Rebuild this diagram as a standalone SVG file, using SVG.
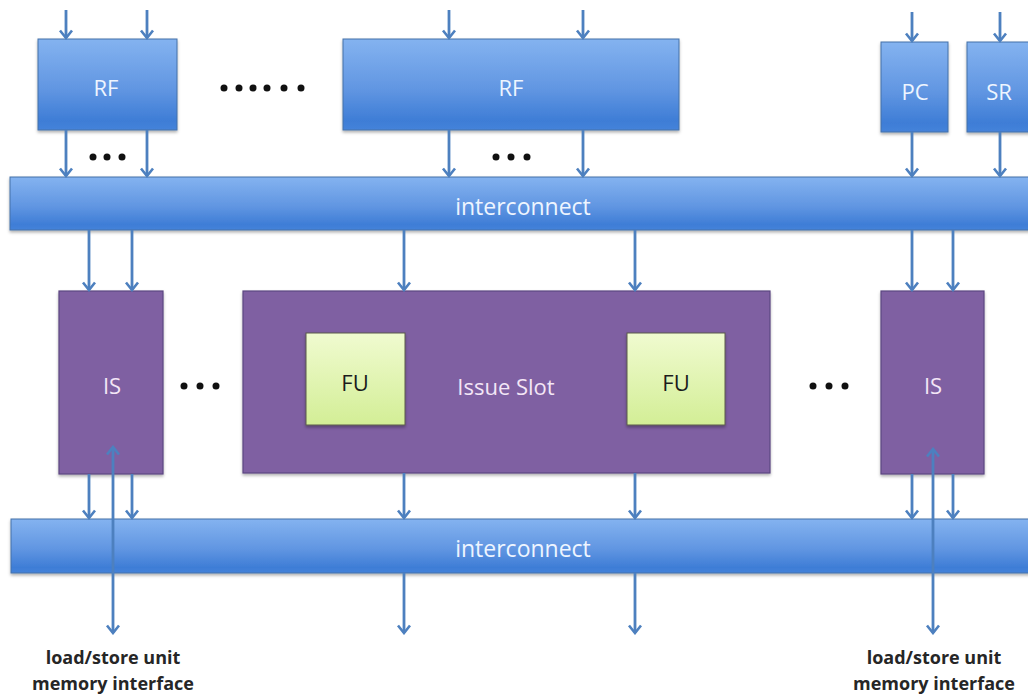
<svg xmlns="http://www.w3.org/2000/svg" width="1028" height="695" viewBox="0 0 1028 695">
  <style>
    .blue { fill: url(#gBlue); stroke: #4470a8; stroke-width: 1; filter: url(#shadow); }
    .purple { fill: #7f61a2; stroke: #5b4680; stroke-width: 1.2; filter: url(#shadow); }
    .fu { fill: url(#gGreen); stroke: #5a5a4a; stroke-width: 1; filter: url(#shadow); }
    .lbl { font-family: "Open Sans", "Liberation Sans", sans-serif; text-anchor: middle; dominant-baseline: central; }
    .lblBlue { fill: #eef5ff; font-size: 22px; }
    .lblBus { fill: #eef5ff; font-size: 23px; }
    .lblPurple { fill: #f3e6f6; font-size: 22px; }
    .lblFu { fill: #1c1c1c; font-size: 22px; }
    .note { font-family: "Open Sans", "Liberation Sans", sans-serif; font-weight: bold; font-size: 18px; fill: #262626; text-anchor: middle; }
    .wire { stroke: #4d80bf; stroke-width: 2.8; fill: none; marker-end: url(#head); }
    .both { marker-start: url(#head); }
    .dot { fill: #111; }
  </style>
  <defs>
    <linearGradient id="gBlue" x1="0" y1="0" x2="0" y2="1">
      <stop offset="0" stop-color="#84b3f0"/>
      <stop offset="0.55" stop-color="#6196e2"/>
      <stop offset="0.9" stop-color="#3e7dd6"/>
      <stop offset="1" stop-color="#4583da"/>
    </linearGradient>
    <linearGradient id="gGreen" x1="0" y1="0" x2="0" y2="1">
      <stop offset="0" stop-color="#f0fbd0"/>
      <stop offset="1" stop-color="#d3ee96"/>
    </linearGradient>
    <filter id="shadow" x="-10%" y="-10%" width="120%" height="130%">
      <feDropShadow dx="0" dy="2" stdDeviation="1.5" flood-color="#000" flood-opacity="0.3"/>
    </filter>
    <marker id="head" markerUnits="userSpaceOnUse" viewBox="-10 -8 12 16" refX="0" refY="0" markerWidth="12" markerHeight="16" orient="auto-start-reverse">
      <path d="M-7.5,-6 L0,0 L-7.5,6" fill="none" stroke="#4d80bf" stroke-width="2.6"/>
    </marker>
  </defs>

  <rect width="1028" height="695" fill="#ffffff"/>

  <!-- register files and special registers -->
  <g id="rf-left">
    <rect class="blue" x="38" y="39" width="139" height="91"/>
    <text class="lbl lblBlue" x="106" y="87">RF</text>
  </g>
  <g id="rf-main">
    <rect class="blue" x="343" y="39" width="336" height="91"/>
    <text class="lbl lblBlue" x="511" y="87">RF</text>
  </g>
  <g id="pc">
    <rect class="blue" x="881" y="42" width="67" height="90"/>
    <text class="lbl lblBlue" x="915" y="91">PC</text>
  </g>
  <g id="sr">
    <rect class="blue" x="967" y="42" width="75" height="90"/>
    <text class="lbl lblBlue" x="999" y="91">SR</text>
  </g>

  <!-- buses -->
  <g id="interconnect-top">
    <rect class="blue" x="10" y="177" width="1030" height="53"/>
    <text class="lbl lblBus" x="523" y="206">interconnect</text>
  </g>
  <g id="interconnect-bottom">
    <rect class="blue" x="11" y="519" width="1030" height="54"/>
    <text class="lbl lblBus" x="523" y="548">interconnect</text>
  </g>

  <!-- issue slots -->
  <g id="is-left">
    <rect class="purple" x="59" y="291" width="104" height="183"/>
    <text class="lbl lblPurple" x="112" y="385">IS</text>
  </g>
  <g id="issue-slot">
    <rect class="purple" x="243" y="291" width="527" height="182"/>
    <text class="lbl lblPurple" x="506" y="386">Issue Slot</text>
  </g>
  <g id="fu-left">
    <rect class="fu" x="306" y="333" width="99" height="92"/>
    <text class="lbl lblFu" x="355" y="382">FU</text>
  </g>
  <g id="fu-right">
    <rect class="fu" x="627" y="333" width="98" height="92"/>
    <text class="lbl lblFu" x="676" y="382">FU</text>
  </g>
  <g id="is-right">
    <rect class="purple" x="881" y="291" width="103" height="183"/>
    <text class="lbl lblPurple" x="933" y="385">IS</text>
  </g>

  <!-- ellipses standing for repeated units -->
  <g id="ellipses">
    <circle class="dot" cx="224" cy="88" r="3.5"/>
    <circle class="dot" cx="239" cy="88" r="3.5"/>
    <circle class="dot" cx="253" cy="88" r="3.5"/>
    <circle class="dot" cx="267" cy="88" r="3.5"/>
    <circle class="dot" cx="284" cy="88" r="3.5"/>
    <circle class="dot" cx="301" cy="88" r="3.5"/>
    <circle class="dot" cx="93" cy="157" r="3.5"/>
    <circle class="dot" cx="107" cy="157" r="3.5"/>
    <circle class="dot" cx="122" cy="157" r="3.5"/>
    <circle class="dot" cx="496" cy="157" r="3.5"/>
    <circle class="dot" cx="511" cy="157" r="3.5"/>
    <circle class="dot" cx="527" cy="157" r="3.5"/>
    <circle class="dot" cx="184" cy="386" r="3.5"/>
    <circle class="dot" cx="200" cy="386" r="3.5"/>
    <circle class="dot" cx="216" cy="386" r="3.5"/>
    <circle class="dot" cx="813" cy="386" r="3.5"/>
    <circle class="dot" cx="829" cy="386" r="3.5"/>
    <circle class="dot" cx="845" cy="386" r="3.5"/>
  </g>

  <!-- connectors -->
  <g id="connectors">
    <!-- inputs to register files -->
    <line class="wire" x1="66" y1="10" x2="66" y2="38"/>
    <line class="wire" x1="147" y1="10" x2="147" y2="38"/>
    <line class="wire" x1="449" y1="10" x2="449" y2="38"/>
    <line class="wire" x1="583" y1="10" x2="583" y2="38"/>
    <line class="wire" x1="912" y1="12" x2="912" y2="41"/>
    <line class="wire" x1="1000" y1="12" x2="1000" y2="41"/>
    <!-- register files to interconnect -->
    <line class="wire" x1="66" y1="130" x2="66" y2="176"/>
    <line class="wire" x1="147" y1="130" x2="147" y2="176"/>
    <line class="wire" x1="449" y1="130" x2="449" y2="176"/>
    <line class="wire" x1="583" y1="130" x2="583" y2="176"/>
    <line class="wire" x1="912" y1="132" x2="912" y2="176"/>
    <line class="wire" x1="1000" y1="132" x2="1000" y2="176"/>
    <!-- interconnect to issue slots -->
    <line class="wire" x1="89" y1="230" x2="89" y2="290"/>
    <line class="wire" x1="132" y1="230" x2="132" y2="290"/>
    <line class="wire" x1="404" y1="230" x2="404" y2="290"/>
    <line class="wire" x1="635" y1="230" x2="635" y2="290"/>
    <line class="wire" x1="912" y1="230" x2="912" y2="290"/>
    <line class="wire" x1="953" y1="230" x2="953" y2="290"/>
    <!-- issue slots to lower interconnect -->
    <line class="wire" x1="89" y1="474" x2="89" y2="518"/>
    <line class="wire" x1="132" y1="474" x2="132" y2="518"/>
    <line class="wire" x1="404" y1="473" x2="404" y2="518"/>
    <line class="wire" x1="635" y1="473" x2="635" y2="518"/>
    <line class="wire" x1="912" y1="474" x2="912" y2="518"/>
    <line class="wire" x1="953" y1="474" x2="953" y2="518"/>
    <!-- lower interconnect outputs -->
    <line class="wire" x1="404" y1="573" x2="404" y2="633"/>
    <line class="wire" x1="635" y1="573" x2="635" y2="633"/>
    <!-- load/store memory ports -->
    <line class="wire both" x1="113" y1="447" x2="113" y2="633"/>
    <line class="wire both" x1="933" y1="449" x2="933" y2="633"/>
  </g>

  <!-- memory interface notes -->
  <g id="lsu-left">
    <text class="note" x="113" y="664">load/store unit</text>
    <text class="note" x="113" y="690">memory interface</text>
  </g>
  <g id="lsu-right">
    <text class="note" x="934" y="664">load/store unit</text>
    <text class="note" x="934" y="690">memory interface</text>
  </g>
</svg>
